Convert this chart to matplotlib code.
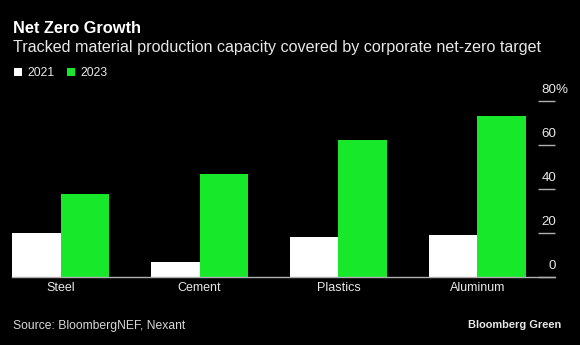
import matplotlib
matplotlib.use("Agg")
import matplotlib.pyplot as plt
import numpy as np
from matplotlib.patches import Patch

plt.rcParams['font.family'] = ['Liberation Sans', 'DejaVu Sans']

categories = ["Steel", "Cement", "Plastics", "Aluminum"]
series_names = ["2021", "2023"]
values_2021 = [20.0, 6.8, 18.2, 19.1]
values_2023 = [38.0, 47.1, 62.1, 73.3]
yticks = [0, 20, 40, 60, 80]

title = "Net Zero Growth"
subtitle = "Tracked material production capacity covered by corporate net-zero target"
source = "Source: BloombergNEF, Nexant"
brand = "Bloomberg Green"

W, H = 580, 345
fig = plt.figure(figsize=(W / 100, H / 100), dpi=100, facecolor="black")

def fx(px):
    return px / W

def fy(py):
    return 1 - py / H

ax_left, ax_right, ax_top, ax_bottom = 12, 555, 101, 277.3
ax = fig.add_axes([fx(ax_left), fy(ax_bottom), fx(ax_right - ax_left), (ax_bottom - ax_top) / H])
ax.set_facecolor("black")

white = "#ffffff"
green = "#17e82a"
bw = 0.35
x = np.arange(len(categories))
ax.bar(x - bw / 2, values_2021, width=bw, color=white, label=series_names[0], zorder=2)
ax.bar(x + bw / 2, values_2023, width=bw, color=green, label=series_names[1], zorder=2)

ax.set_xlim(-0.35, 3.559)
ax.set_ylim(0, 80)

for s in ["top", "left", "right"]:
    ax.spines[s].set_visible(False)
ax.spines["bottom"].set_color("#b0b0b0")
ax.spines["bottom"].set_linewidth(1.0)
ax.spines["bottom"].set_zorder(3)

ax.set_xticks(x)
ax.set_xticklabels(categories, fontsize=9, color="#e8e8e8")
ax.tick_params(axis="x", length=0, pad=3.6)

ax.yaxis.tick_right()
ax.set_yticks(yticks)
ax.set_yticklabels([])
ax.tick_params(axis="y", direction="in", length=12.2, width=1.0, color="#b0b0b0", right=True, left=False)

for i, v in enumerate(yticks):
    ax.annotate(str(v), xy=(1, v), xycoords=("axes fraction", "data"),
                xytext=(1, 8), textcoords="offset pixels", ha="right", va="baseline",
                fontsize=9.6, color="#e8e8e8", annotation_clip=False)
    if i == len(yticks) - 1:
        ax.annotate("%", xy=(1, v), xycoords=("axes fraction", "data"),
                    xytext=(0, 8), textcoords="offset pixels", ha="left", va="baseline",
                    fontsize=9.6, color="#e8e8e8", annotation_clip=False)

fig.text(fx(13), fy(32.7), title, fontsize=11.8, fontweight="bold", color="white", va="baseline", ha="left")
fig.text(fx(13), fy(52), subtitle, fontsize=11.6, color="#e8e8e8", va="baseline", ha="left")

handles = [Patch(facecolor=white, edgecolor="none"), Patch(facecolor=green, edgecolor="none")]
leg = fig.legend(handles, series_names, loc="upper left", bbox_to_anchor=(fx(14), fy(67.5)),
                 ncol=2, frameon=False, fontsize=8.7, handlelength=0.64, handleheight=0.64,
                 handletextpad=0.47, columnspacing=1.07, borderpad=0, borderaxespad=0)
for t in leg.get_texts():
    t.set_color("#e8e8e8")

fig.text(fx(13), fy(329.5), source, fontsize=8.75, color="#d8d8d8", va="baseline", ha="left")
fig.text(fx(561), fy(328.5), brand, fontsize=7.9, fontweight="bold", color="#e8e8e8", va="baseline", ha="right")

fig.savefig("out.png", dpi=100, facecolor="black")
